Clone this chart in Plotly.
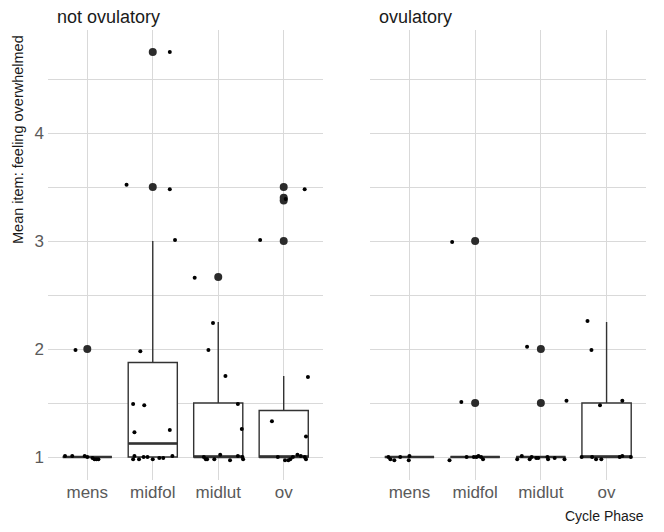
import plotly.graph_objects as go

# Cycle phases shown on the x axis of both panels
phases = ["mens", "midfol", "midlut", "ov"]
panels = ["not ovulatory", "ovulatory"]

# Boxplot summaries (per phase) for each panel
box_q1 = {
    "not ovulatory": [1, 1, 1, 1],
    "ovulatory": [1, 1, 1, 1],
}
box_median = {
    "not ovulatory": [1, 1.125, 1, 1],
    "ovulatory": [1, 1, 1, 1],
}
box_q3 = {
    "not ovulatory": [1, 1.875, 1.5, 1.43],
    "ovulatory": [1, 1, 1, 1.5],
}
box_lower = {
    "not ovulatory": [1, 1, 1, 1],
    "ovulatory": [1, 1, 1, 1],
}
box_upper = {
    "not ovulatory": [1, 3, 2.25, 1.75],
    "ovulatory": [1, 1, 1, 2.25],
}

# Boxplot outliers: (phase, value)
outliers_not_ovulatory = [
    ("mens", 2.0),
    ("midfol", 3.5), ("midfol", 4.75),
    ("midlut", 2.667),
    ("ov", 3.0), ("ov", 3.375), ("ov", 3.4), ("ov", 3.5),
]
outliers_ovulatory = [
    ("midfol", 1.5), ("midfol", 3.0),
    ("midlut", 1.5), ("midlut", 2.0),
]

# Individual observations with their horizontal jitter: (phase, jitter, value)
jitter_not_ovulatory = [
    ("mens", -0.18, 1.99), ("mens", -0.34, 1.01), ("mens", -0.23, 1.01),
    ("mens", -0.04, 1.01), ("mens", 0.00, 1.00), ("mens", 0.08, 0.99),
    ("mens", 0.11, 0.98), ("mens", 0.14, 0.98), ("mens", 0.17, 0.98),
    ("midfol", 0.26, 4.75), ("midfol", -0.40, 3.52), ("midfol", 0.26, 3.48),
    ("midfol", 0.34, 3.01), ("midfol", -0.19, 1.98), ("midfol", -0.30, 1.49),
    ("midfol", -0.13, 1.48), ("midfol", -0.28, 1.23), ("midfol", 0.26, 1.25),
    ("midfol", -0.30, 0.98), ("midfol", -0.28, 1.01), ("midfol", -0.21, 0.98),
    ("midfol", -0.14, 1.00), ("midfol", -0.08, 1.00), ("midfol", 0.00, 0.98),
    ("midfol", 0.10, 0.99), ("midfol", 0.16, 0.99), ("midfol", 0.30, 1.01),
    ("midlut", -0.36, 2.66), ("midlut", -0.08, 2.24), ("midlut", -0.15, 1.99),
    ("midlut", 0.11, 1.75), ("midlut", 0.30, 1.49), ("midlut", 0.36, 1.26),
    ("midlut", -0.22, 1.00), ("midlut", -0.19, 0.98), ("midlut", -0.17, 0.98),
    ("midlut", -0.06, 0.98), ("midlut", 0.03, 1.02), ("midlut", 0.18, 0.97),
    ("midlut", 0.30, 1.01), ("midlut", 0.37, 1.00), ("midlut", 0.38, 0.98),
    ("ov", -0.36, 3.01), ("ov", 0.32, 3.48), ("ov", 0.03, 3.39),
    ("ov", 0.37, 1.74), ("ov", -0.18, 1.33), ("ov", 0.34, 1.19),
    ("ov", -0.09, 1.00), ("ov", 0.02, 0.97), ("ov", 0.07, 0.97),
    ("ov", 0.10, 0.98), ("ov", 0.14, 1.00), ("ov", 0.21, 1.02),
    ("ov", 0.26, 1.01), ("ov", 0.32, 1.00), ("ov", 0.34, 0.98),
]
jitter_ovulatory = [
    ("mens", -0.32, 1.00), ("mens", -0.29, 0.98), ("mens", -0.23, 0.97),
    ("mens", -0.14, 1.00), ("mens", -0.01, 0.97), ("mens", 0.00, 1.01),
    ("midfol", -0.21, 1.51), ("midfol", -0.35, 2.99), ("midfol", -0.39, 0.97),
    ("midfol", -0.13, 1.00), ("midfol", -0.02, 1.00), ("midfol", 0.02, 1.00),
    ("midfol", 0.05, 1.01), ("midfol", 0.09, 1.00), ("midfol", 0.12, 0.98),
    ("midlut", -0.21, 2.02), ("midlut", 0.39, 1.52), ("midlut", -0.36, 0.98),
    ("midlut", -0.29, 1.01), ("midlut", -0.17, 0.98), ("midlut", -0.14, 1.00),
    ("midlut", -0.07, 0.99), ("midlut", -0.04, 0.99), ("midlut", 0.10, 1.00),
    ("midlut", 0.11, 0.98), ("midlut", 0.21, 0.99), ("midlut", 0.36, 0.98),
    ("ov", -0.29, 2.26), ("ov", -0.23, 1.99), ("ov", -0.10, 1.48),
    ("ov", 0.24, 1.52), ("ov", -0.38, 1.00), ("ov", -0.22, 1.00),
    ("ov", -0.16, 0.98), ("ov", -0.08, 0.98), ("ov", 0.20, 1.00),
    ("ov", 0.24, 1.01), ("ov", 0.37, 1.00),
]

outliers = {"not ovulatory": outliers_not_ovulatory, "ovulatory": outliers_ovulatory}
jitter = {"not ovulatory": jitter_not_ovulatory, "ovulatory": jitter_ovulatory}

BOX_WIDTH = 0.75
BOX_COLOR = "#333333"
GRID = "#d9d9d9"
pos = {p: i + 1 for i, p in enumerate(phases)}
xpos = [pos[p] for p in phases]

fig = go.Figure()

for k, panel in enumerate(panels):
    xa = "x" if k == 0 else "x2"
    ya = "y" if k == 0 else "y2"

    fig.add_trace(go.Box(
        x=xpos, q1=box_q1[panel], median=box_median[panel], q3=box_q3[panel],
        lowerfence=box_lower[panel], upperfence=box_upper[panel],
        width=BOX_WIDTH, whiskerwidth=0, boxpoints=False,
        fillcolor="white", line=dict(color=BOX_COLOR, width=1.4),
        xaxis=xa, yaxis=ya, showlegend=False, hoverinfo="skip",
    ))

    # thicker median bars, as in ggplot boxplots
    mx, my = [], []
    for xc, m in zip(xpos, box_median[panel]):
        mx += [xc - BOX_WIDTH / 2, xc + BOX_WIDTH / 2, None]
        my += [m, m, None]
    fig.add_trace(go.Scatter(
        x=mx, y=my, mode="lines", line=dict(color=BOX_COLOR, width=2.6),
        xaxis=xa, yaxis=ya, showlegend=False, hoverinfo="skip",
    ))

    fig.add_trace(go.Scatter(
        x=[pos[p] for p, _ in outliers[panel]],
        y=[v for _, v in outliers[panel]],
        mode="markers", marker=dict(color="#2b2b2b", size=8),
        xaxis=xa, yaxis=ya, showlegend=False,
    ))

    fig.add_trace(go.Scatter(
        x=[pos[p] + dx for p, dx, _ in jitter[panel]],
        y=[v for _, _, v in jitter[panel]],
        mode="markers", marker=dict(color="black", size=4),
        xaxis=xa, yaxis=ya, showlegend=False,
    ))

W, H = 664, 532
x1_dom = [48 / W, 323 / W]
x2_dom = [370 / W, 646 / W]
y_dom = [1 - 480 / H, 1 - 30 / H]
y_range = [0.787, 4.954]

xcommon = dict(
    range=[0.4, 4.6], tickvals=xpos, ticktext=phases, showgrid=True,
    gridcolor=GRID, gridwidth=1, zeroline=False, showline=False, ticks="",
    tickfont=dict(family="Liberation Sans, Arial", size=17, color="#5a5a5a"),
    fixedrange=True,
)
ycommon = dict(
    range=y_range, tickvals=[1, 2, 3, 4], showgrid=True, gridcolor=GRID,
    gridwidth=1, zeroline=False, showline=False, ticks="",
    minor=dict(tickvals=[1.5, 2.5, 3.5, 4.5], showgrid=True, gridcolor=GRID, gridwidth=1),
    domain=y_dom, fixedrange=True,
)

fig.update_layout(
    width=W, height=H, margin=dict(l=0, r=0, t=0, b=0),
    paper_bgcolor="white", plot_bgcolor="white",
    xaxis=dict(domain=x1_dom, anchor="y", **xcommon),
    xaxis2=dict(domain=x2_dom, anchor="y2", **xcommon),
    yaxis=dict(anchor="x", ticklabelstandoff=3,
               tickfont=dict(family="Liberation Sans, Arial", size=17, color="#5a5a5a"),
               **ycommon),
    yaxis2=dict(anchor="x2", matches="y", showticklabels=False, **ycommon),
    font=dict(family="Liberation Sans, Arial", color="#1a1a1a"),
)

# facet strip labels
for dom, label in zip([x1_dom, x2_dom], panels):
    fig.add_annotation(
        x=dom[0] + 7 / W, y=1 - 17 / H, xref="paper", yref="paper",
        text=label, showarrow=False, xanchor="left", yanchor="middle",
        font=dict(size=18, color="#1a1a1a"),
    )

fig.add_annotation(
    x=18 / W, y=1 - 140 / H, xref="paper", yref="paper",
    text="Mean item: feeling overwhelmed", textangle=-90, showarrow=False,
    xanchor="center", yanchor="middle", font=dict(size=14.5, color="#1a1a1a"),
)
fig.add_annotation(
    x=646 / W, y=1 - 516 / H, xref="paper", yref="paper",
    text="Cycle Phase", showarrow=False, xanchor="right", yanchor="middle",
    font=dict(size=14, color="#1a1a1a"),
)

fig.write_html("out.html")
